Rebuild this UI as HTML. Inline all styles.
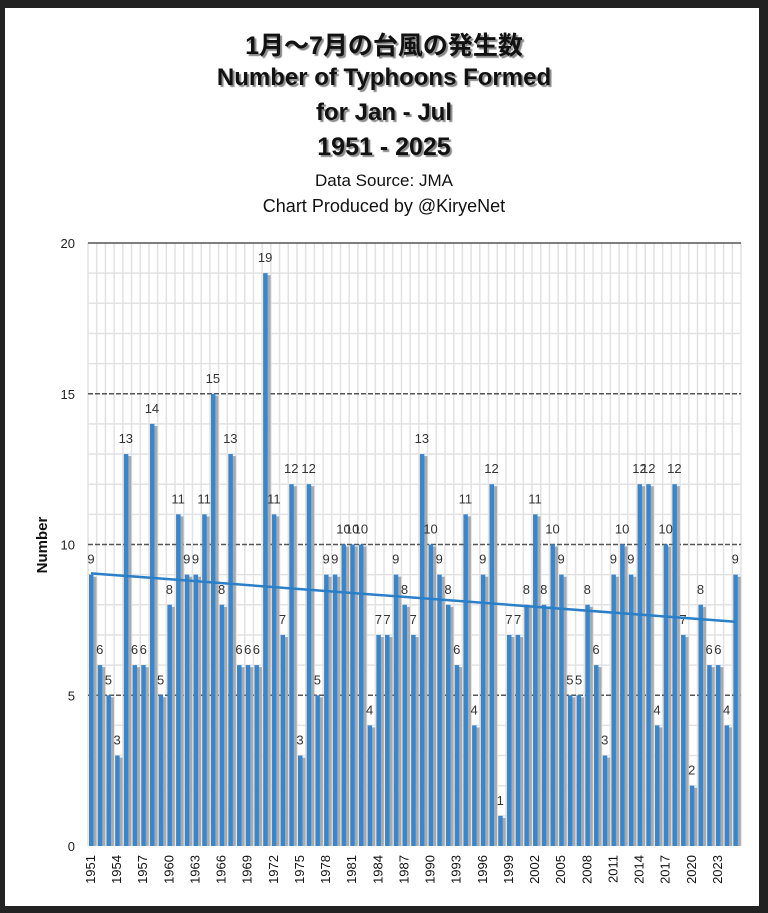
<!DOCTYPE html>
<html><head><meta charset="utf-8">
<style>
html,body{margin:0;padding:0;background:#222;}
#wrap{position:relative;width:768px;height:913px;background:#222;overflow:hidden;}
#panel{position:absolute;left:5px;top:8px;width:754px;height:898px;background:#fff;}
.t{position:absolute;left:0;width:768px;text-align:center;font-family:"Liberation Sans","Noto Sans CJK JP",sans-serif;color:#111;}
.sh{font-weight:bold;text-shadow:2px 2px 1px #888;}
svg{position:absolute;left:0;top:0;}
</style></head><body>
<div id="wrap">
<div id="panel"></div>
<div class="t sh" style="top:26px;font-size:25px;">1月～7月の台風の発生数</div>
<div class="t sh" style="top:64px;font-size:24px;">Number of Typhoons Formed</div>
<div class="t sh" style="top:99px;font-size:24px;">for Jan - Jul</div>
<div class="t sh" style="top:133px;font-size:25px;">1951 - 2025</div>
<div class="t" style="top:171px;font-size:17px;">Data Source: JMA</div>
<div class="t" style="top:196px;font-size:18px;">Chart Produced by @KiryeNet</div>
<svg id="chart" width="768" height="913"></svg>
</div>
<script>
const years = [];
for (let y = 1951; y <= 2025; y++) years.push(y);
const values = [9,6,5,3,13,6,6,14,5,8,11,9,9,11,15,8,13,6,6,6,19,11,7,12,3,12,5,9,9,10,10,10,4,7,7,9,8,7,13,10,9,8,6,11,4,9,12,1,7,7,8,11,8,10,9,5,5,8,6,3,9,10,9,12,12,4,10,12,7,2,8,6,6,4,9];
const yTicks = [0,5,10,15,20];

const NS = "http://www.w3.org/2000/svg";
const svg = document.getElementById('chart');
const L = 88, R = 741, T = 243, B = 846, YMAX = 20;
const band = (R - L) / years.length;
const xb = i => L + i * band;
const y = v => B - v / YMAX * (B - T);
function mk(tag, attrs, parent) {
  const e = document.createElementNS(NS, tag);
  for (const k in attrs) e.setAttribute(k, attrs[k]);
  (parent || svg).appendChild(e);
  return e;
}
for (let v = 1; v < YMAX; v++) {
  if (v % 5 === 0) continue;
  const g = mk('line', {x1: L, x2: R, y1: y(v), y2: y(v), stroke: '#e2e2e2', 'stroke-width': 1.5});
  
  
}
for (let i = 0; i <= years.length; i++) {
  const g = mk('line', {x1: xb(i), x2: xb(i), y1: T, y2: B, stroke: '#e2e2e2', 'stroke-width': 1.5});
  
  
}
yTicks.forEach(v => {
  if (v > 0) {
    const g = mk('line', {x1: L, x2: R, y1: y(v), y2: y(v), stroke: '#555', 'stroke-width': 1.5, 'stroke-dasharray': v === YMAX ? '' : '5,2'});
    
    
  }
  const t = mk('text', {x: 75, y: y(v) + 5, 'text-anchor': 'end', 'font-size': 13, 'font-family': 'Liberation Sans, sans-serif', fill: '#222'});
  t.textContent = v;
  
  
});
values.forEach((v, i) => {
  const x0 = xb(i) + 1;
  const s = mk('rect', {x: x0 + 3, y: y(v) + 2, width: 4.5, height: B - y(v) - 2, fill: '#aaaaaa'});
  
  
  const b = mk('rect', {x: x0, y: y(v), width: 4.5, height: B - y(v), fill: '#3a86cc'});
  
  
  const t = mk('text', {x: x0 + 2, y: y(v) - 11, 'text-anchor': 'middle', 'font-size': 13, 'font-family': 'Liberation Sans, sans-serif', fill: '#333'});
  t.textContent = v;
  
  
});
const n = values.length;
let sx = 0, sy = 0, sxx = 0, sxy = 0;
values.forEach((v, i) => { sx += i; sy += v; sxx += i * i; sxy += i * v; });
const slope = (n * sxy - sx * sy) / (n * sxx - sx * sx);
const icpt = (sy - slope * sx) / n;
const tl = mk('line', {x1: xb(0) + 3, y1: y(icpt), x2: xb(n - 1) + 3, y2: y(icpt + slope * (n - 1)), stroke: '#2a7fc9', 'stroke-width': 2.5});


years.forEach((yr, i) => {
  if ((yr - 1951) % 3 !== 0) return;
  const cx = xb(i) + 7, cy = 855;
  const t = mk('text', {x: cx, y: cy, transform: `rotate(-90 ${cx} ${cy})`, 'text-anchor': 'end', 'font-size': 13, 'font-family': 'Liberation Sans, sans-serif', fill: '#111'});
  t.textContent = yr;
  
  
});
const yt = mk('text', {x: 47, y: 545, transform: 'rotate(-90 47 545)', 'text-anchor': 'middle', 'font-size': 15, 'font-weight': 'bold', 'font-family': 'Liberation Sans, sans-serif', fill: '#111'});
yt.textContent = 'Number';


</script>
</body></html>
